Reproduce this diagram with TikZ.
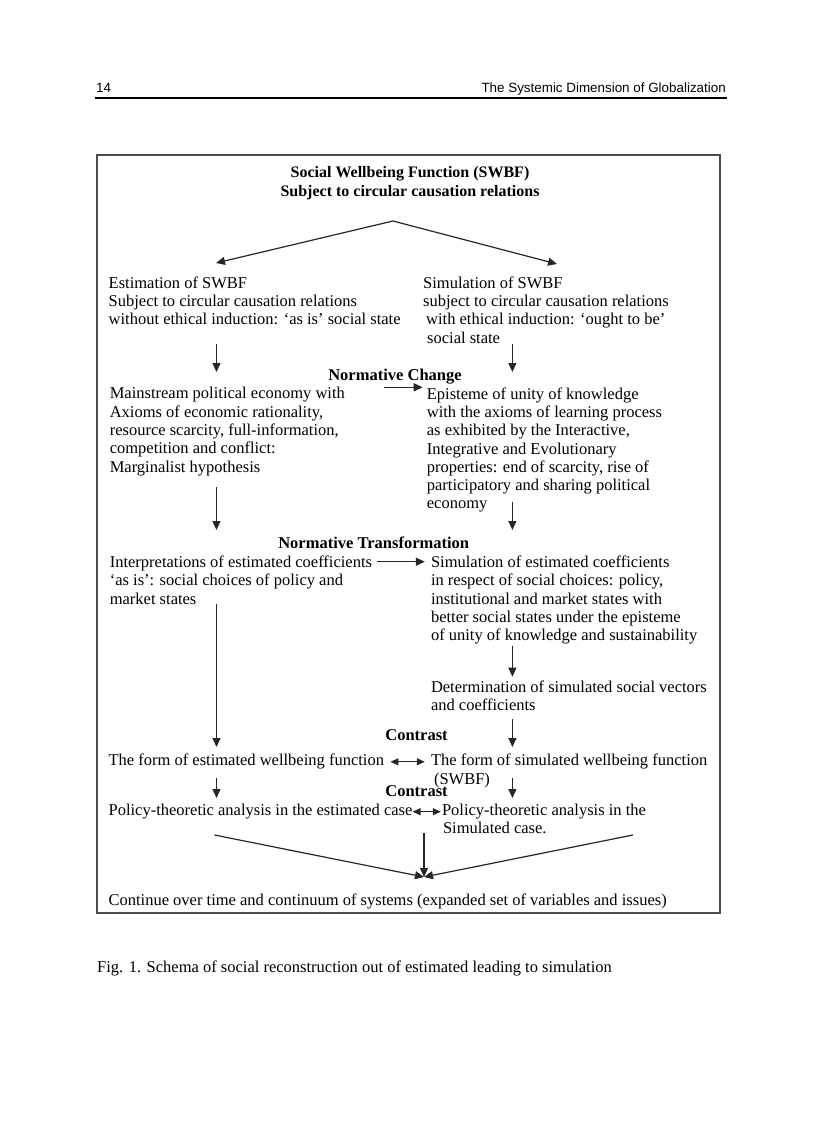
\documentclass[tikz,border=0pt]{standalone}
\usepackage{fontspec}
\setmainfont{Liberation Serif}
\newfontfamily\headerfont{Liberation Sans}
\usetikzlibrary{arrows.meta}
\newcommand\bodysize{\fontsize{16.5}{18.3}\selectfont}
\begin{document}
\begin{tikzpicture}[x=1pt, y=-1pt]
\tikzstyle{txt}=[anchor=north west, inner sep=0pt, align=left, font=\bodysize]
\tikzstyle{hdg}=[anchor=base, inner sep=0pt, font=\bodysize\bfseries]
\tikzstyle{arr}=[-{Triangle[length=9pt, width=8pt]}, line width=1.2pt, black!85]
\tikzstyle{darr}=[{Triangle[length=8pt, width=7pt]}-{Triangle[length=8pt, width=7pt]}, line width=1.2pt, black!85]
\useasboundingbox (0,0) rectangle (816,1123);
% page header
\node[anchor=base west, inner sep=0pt, font=\headerfont\fontsize{13.4}{16}\selectfont] (pgnum) at (96,93) {14};
\node[anchor=base east, inner sep=0pt, font=\headerfont\fontsize{13.4}{16}\selectfont] (running) at (726,93) {The Systemic Dimension of Globalization};
\draw[line width=1.2pt] (95,98) -- (727,98);
\draw[line width=2pt, black!70] (96.7,155) rectangle (719.5,913);
\coordinate (colL) at (216.5,0);
\coordinate (colR) at (512.4,0);
\node[anchor=north, inner sep=0pt, align=center, font=\fontsize{16}{18.3}\selectfont\bfseries] (swbf) at (410,166.5) {Social Wellbeing Function (SWBF)\\Subject to circular causation relations};
\node[txt] (est) at (108.5,276.5) {Estimation of SWBF\\Subject to circular causation relations\\without ethical induction: `as is' social state};
\node[txt] (sim) at (423,276.5) {Simulation of SWBF\\subject to circular causation relations\\\hspace*{3pt}with ethical induction: `ought to be'\\\hspace*{4pt}social state};
\node[hdg] (nchange) at (395,380.5) {Normative Change};
\node[txt] (main) at (109.6,387.3) {Mainstream political economy with\\Axioms of economic rationality,\\resource scarcity, full-information,\\competition and conflict:\\Marginalist hypothesis};
\node[txt] (episteme) at (426.7,387.3) {Episteme of unity of knowledge\\with the axioms of learning process\\as exhibited by the Interactive,\\Integrative and Evolutionary\\properties: end of scarcity, rise of\\participatory and sharing political\\economy};
\node[hdg] (ntrans) at (373.7,548.8) {Normative Transformation};
\node[txt] (interp) at (109.6,555.7) {Interpretations of estimated coefficients\\`as is': social choices of policy and\\market states};
\node[txt] (simcoef) at (430.8,555.7) {Simulation of estimated coefficients\\in respect of social choices: policy,\\institutional and market states with\\better social states under the episteme\\of unity of knowledge and sustainability};
\node[txt] (determ) at (430.8,680.7) {Determination of simulated social vectors\\and coefficients};
\node[hdg] (contrastA) at (416.5,740.5) {Contrast};
\node[txt] (estform) at (108.4,754) {The form of estimated wellbeing function};
\node[txt] (simform) at (430.8,754) {The form of simulated wellbeing function\\\hspace*{3pt}(SWBF)};
\node[hdg] (contrastB) at (416.5,796.5) {Contrast};
\node[txt] (estpol) at (108.4,804) {Policy-theoretic analysis in the estimated case};
\node[txt] (simpol) at (441.8,804) {Policy-theoretic analysis in the\\\hspace*{1pt}Simulated case.};
\node[txt] (cont) at (108.4,894) {Continue over time and continuum of systems (expanded set of variables and issues)};
\coordinate (fork) at (393,221);
\coordinate (forkL) at (216,263);
\coordinate (forkR) at (557,264);
\coordinate (mergeL) at (214.5,835);
\coordinate (mergeM) at (424,833.3);
\coordinate (mergeR) at (632.9,835);
\coordinate (meet) at (424,877);
\draw[arr] (fork) -- (forkL);
\draw[arr] (fork) -- (forkR);
\draw[arr, shorten <=18.6pt, shorten >=15.3pt] (est.south -| colL) -- (main.north -| colL);
\draw[arr, shorten <=11.3pt, shorten >=25.7pt] (main.south -| colL) -- (interp.north -| colL);
\draw[arr, shorten >=7pt] (interp.south -| colL) -- (estform.north -| colL);
\draw[arr, shorten <=8pt, shorten >=6pt] (estform.south -| colL) -- (estpol.north -| colL);
\draw[arr, shorten >=15.3pt] (sim.south -| colR) -- (episteme.north -| colR);
\draw[arr, shorten <=-10.3pt, shorten >=25.7pt] (episteme.south -| colR) -- (simcoef.north -| colR);
\draw[arr, shorten <=1.2pt, shorten >=4pt] (simcoef.south -| colR) -- (determ.north -| colR);
\draw[arr, shorten <=7.7pt, shorten >=7pt] (determ.south -| colR) -- (simform.north -| colR);
\draw[arr, shorten <=-9.9pt, shorten >=6pt] (simform.south -| colR) -- (simpol.north -| colR);
\draw[arr, shorten <=39pt, shorten >=4pt] (main.north east) -- (episteme.north west);
\draw[arr, shorten <=5pt, shorten >=6pt] ([yshift=-6pt]interp.north east) -- ([yshift=-6pt]simcoef.north west);
\draw[darr, shorten <=6.3pt, shorten >=6pt] (estform.east) -- (estform.east -| simform.west);
\draw[darr, shorten >=1pt] (estpol.east) -- (estpol.east -| simpol.west);
\draw[arr] (mergeL) -- (meet);
\draw[arr] (mergeM) -- (meet);
\draw[arr] (mergeR) -- (meet);
\node[anchor=base west, inner sep=0pt, font=\fontsize{16.5}{18}\selectfont] (caption) at (97,972) {Fig. 1. Schema of social reconstruction out of estimated leading to simulation};
\end{tikzpicture}
\end{document}
